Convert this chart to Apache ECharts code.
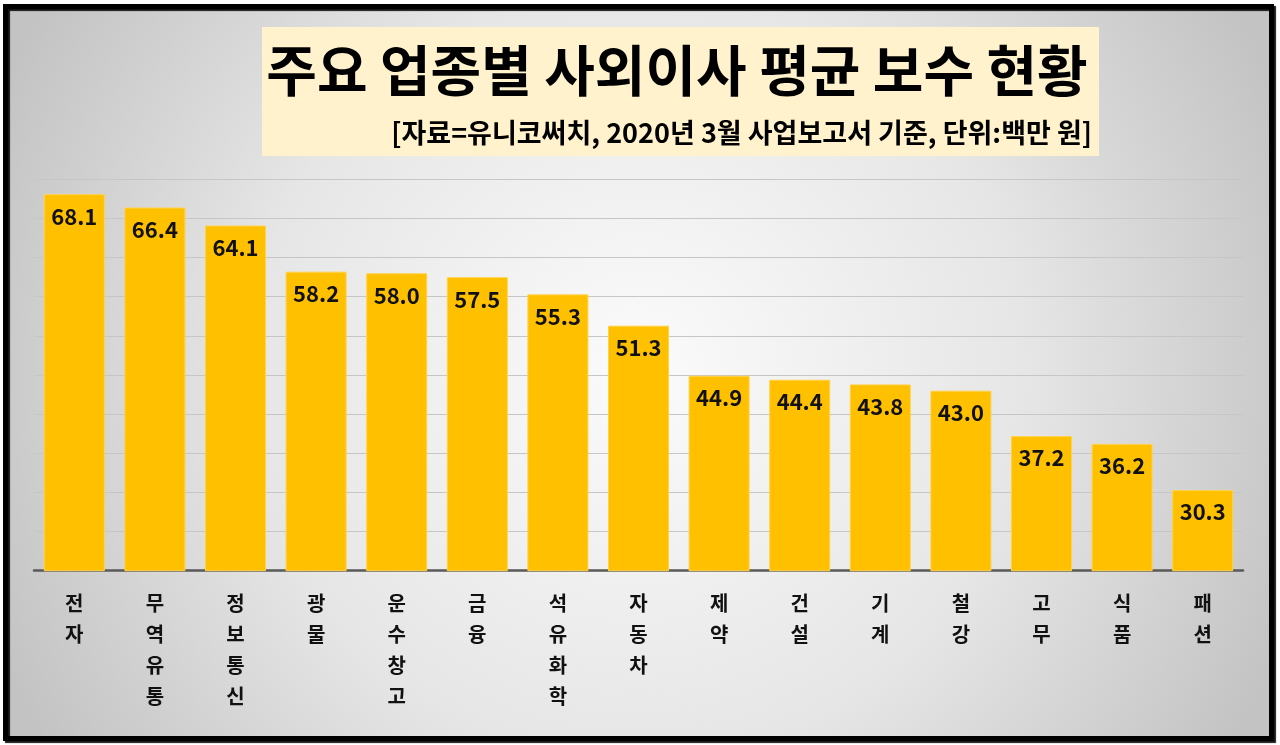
<!DOCTYPE html>
<html>
<head>
<meta charset="utf-8">
<script src="https://cdn.jsdelivr.net/npm/echarts@6/dist/echarts.min.js"></script>
<style>
html,body{margin:0;padding:0;background:#ffffff;}
#chart{width:1280px;height:745px;}
</style>
</head>
<body>
<div id="chart"></div>
<script>
const titleText = '주요 업종별 사외이사 평균 보수 현황';
const subtitleText = '[자료=유니코써치, 2020년 3월 사업보고서 기준, 단위:백만 원]';
const categories = ['전자','무역유통','정보통신','광물','운수창고','금융','석유화학','자동차','제약','건설','기계','철강','고무','식품','패션'];
const values = [68.1,66.4,64.1,58.2,58.0,57.5,55.3,51.3,44.9,44.4,43.8,43.0,37.2,36.2,30.3];
const yMin = 20, yMax = 70, yStep = 5;

const FONT = '"Noto Sans CJK KR", "Noto Sans", sans-serif';
const chart = echarts.init(document.getElementById('chart'), null, {renderer:'canvas'});
chart.setOption({
  animation: false,
  graphic: [
    {
      type: 'rect', z: -10, silent: true,
      shape: {x: 5.5, y: 6.5, width: 1266, height: 732},
      style: {
        fill: {type:'radial', x:0.5, y:0.5, r:0.95,
          colorStops:[{offset:0,color:'#fbfbfb'},{offset:0.55,color:'#e6e6e6'},{offset:1,color:'#c3c3c3'}]},
        stroke: '#000000', lineWidth: 5,
        shadowColor: 'rgba(0,0,0,0.9)', shadowOffsetX: 2, shadowOffsetY: 2, shadowBlur: 1
      }
    },
    {
      type: 'rect', z: -5, silent: true,
      shape: {x: 262, y: 27, width: 837, height: 129},
      style: {fill: '#FFF2CC'}
    },
    {
      type: 'text', z: 5, silent: true,
      x: 677, y: 70,
      style: {text: titleText, font: 'bold 55px ' + FONT, fill: '#000000', align: 'center', verticalAlign: 'middle'}
    },
    {
      type: 'text', z: 5, silent: true,
      x: 1092, y: 133,
      style: {text: subtitleText, font: 'bold 27px ' + FONT, fill: '#000000', align: 'right', verticalAlign: 'middle'}
    }
  ],
  grid: {left: 34, right: 37, top: 179.3, bottom: 174.3, containLabel: false},
  xAxis: {
    type: 'category',
    data: categories,
    axisLine: {show: true, lineStyle: {color: '#595959', width: 2.5}},
    axisTick: {show: false},
    axisLabel: {
      interval: 0, margin: 17,
      fontFamily: FONT, fontSize: 20, fontWeight: 'bold', color: '#111111', lineHeight: 31,
      formatter: v => v.split('').join('\n')
    }
  },
  yAxis: {
    type: 'value', min: yMin, max: yMax, interval: yStep,
    axisLabel: {show: false}, axisLine: {show: false}, axisTick: {show: false},
    splitLine: {show: true, lineStyle: {color: '#c6c6c6', width: 1}}
  },
  series: [{
    type: 'bar',
    data: values,
    barWidth: 61,
    itemStyle: {color: '#FFC000', borderColor: '#FFD24D', borderWidth: 1},
    label: {
      show: true, position: 'insideTop', distance: 11,
      fontFamily: FONT, fontSize: 22, fontWeight: 'bold', color: '#111111',
      formatter: p => p.value.toFixed(1)
    }
  }]
});
</script>
</body>
</html>
